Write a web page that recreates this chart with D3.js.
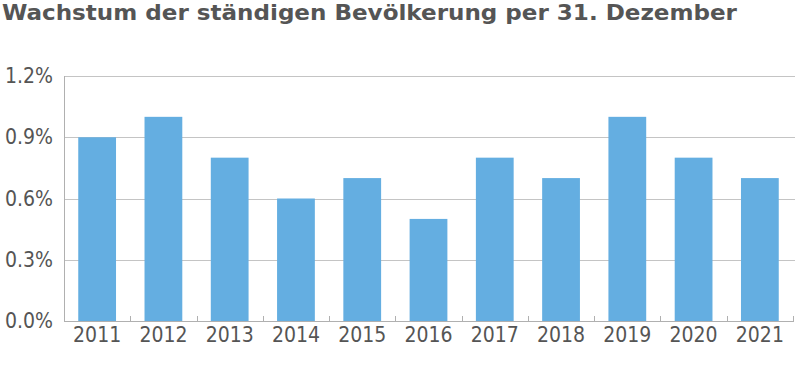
<!DOCTYPE html>
<html><head><meta charset="utf-8">
<script src="https://cdn.jsdelivr.net/npm/d3@7"></script>
<style>body{margin:0;background:#fff}svg{display:block}</style>
</head><body><svg id="c" width="800" height="383"></svg>
<script>
const categories = ["2011","2012","2013","2014","2015","2016","2017","2018","2019","2020","2021"];
const values = [0.9,1.0,0.8,0.6,0.7,0.5,0.8,0.7,1.0,0.8,0.7];
const yTicks = [0,0.3,0.6,0.9,1.2];
const title = "Wachstum der ständigen Bevölkerung per 31. Dezember";

const FONT = "'DejaVu Sans Condensed', 'DejaVu Sans', sans-serif";
const svg = d3.select("#c");
const m = {l:64, r:793, t:76, b:321};
const x = d3.scaleBand().domain(categories).range([m.l, m.r]).paddingInner(0.43).paddingOuter(0.215);
const xo = d3.scaleBand().domain(categories).range([m.l, m.r]);
const y = d3.scaleLinear().domain([0,1.2]).range([m.b, m.t]);

svg.append("text").attr("x",2).attr("y",20).attr("font-family",FONT).attr("font-stretch","condensed").attr("font-weight","bold")
  .attr("font-size",22).attr("fill","#555").attr("textLength",735).attr("lengthAdjust","spacingAndGlyphs").text(title);

// grid
svg.append("g").selectAll("line").data(yTicks.slice(1)).join("line")
  .attr("x1",m.l).attr("x2",m.r+2).attr("y1",d=>Math.round(y(d))+0.5).attr("y2",d=>Math.round(y(d))+0.5)
  .attr("stroke","#c4c4c4").attr("stroke-width",1);

svg.append("g").selectAll("rect").data(values).join("rect")
  .attr("x",(d,i)=>x(categories[i])).attr("width",x.bandwidth())
  .attr("y",d=>y(d)).attr("height",d=>y(0)-y(d)).attr("fill","#64aee1");

// left axis line
svg.append("line").attr("x1",m.l+0.5).attr("x2",m.l+0.5).attr("y1",m.t).attr("y2",m.b).attr("stroke","#b0b0b0");
// y axis
const ya = svg.append("g").attr("transform",`translate(${m.l},0)`)
  .call(d3.axisLeft(y).tickValues(yTicks).tickFormat(d=>d3.format(".1f")(d)+"%").tickSize(0).tickPadding(11));
ya.select(".domain").remove();
ya.selectAll("text").attr("font-family",FONT).attr("font-stretch","condensed").attr("font-size",21).attr("fill","#555");

// x axis
const xa = svg.append("g").attr("transform",`translate(0,${m.b})`)
  .call(d3.axisBottom(xo).tickSize(0).tickPadding(6));
xa.select(".domain").attr("stroke","#b0b0b0").attr("d",`M${m.l},0.5H${m.r+1}`);
xa.selectAll("text").attr("font-family",FONT).attr("font-stretch","condensed").attr("font-size",21).attr("fill","#555").attr("dy","0.72em");
svg.append("g").selectAll("line").data(categories.slice(1).concat(["end"])).join("line")
  .attr("x1",(d,i)=>Math.round(m.l+(i+1)*xo.step())+0.5).attr("x2",(d,i)=>Math.round(m.l+(i+1)*xo.step())+0.5)
  .attr("y1",m.b-5).attr("y2",m.b).attr("stroke","#b0b0b0");
</script></body></html>
